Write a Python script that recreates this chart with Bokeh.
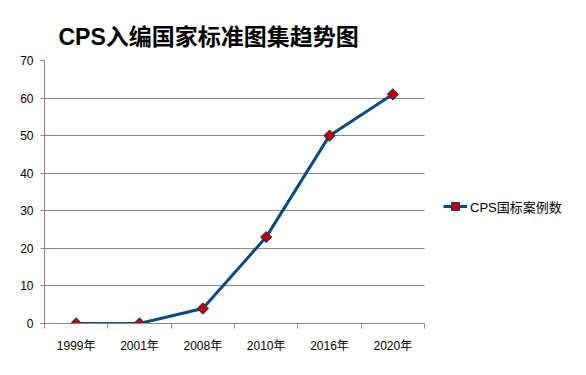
import math
from bokeh.plotting import figure
from bokeh.models import FixedTicker, Legend, LegendItem, ColumnDataSource
from bokeh.embed import file_html
from bokeh.resources import INLINE

title_text = "CPS入编国家标准图集趋势图"
years = ["1999年", "2001年", "2008年", "2010年", "2016年", "2020年"]
counts = [0, 0, 4, 23, 50, 61]
series_name = "CPS国标案例数"
y_ticks = [0, 10, 20, 30, 40, 50, 60, 70]

n = len(years)
xpos = [i + 0.5 for i in range(n)]
src = ColumnDataSource(dict(x=xpos, y=counts, year=years))

W, H = 578, 367
left, top, bottom = 44, 60, 44
plot_px = 380  # pixel width of the category area
x_end = n * (W - left) / plot_px

p = figure(width=W, height=H, output_backend="svg", toolbar_location=None,
           x_range=(0, x_end), y_range=(0, 70),
           min_border_left=left, min_border_right=0, min_border_top=top, min_border_bottom=bottom)
p.outline_line_color = None
p.background_fill_color = "white"
p.border_fill_color = "white"

font = "Liberation Sans, Noto Sans CJK SC"
p.title.text = title_text
p.title.text_font = font
p.title.text_font_size = "23px"
p.title.text_font_style = "bold"
p.title.text_color = "black"
p.title.offset = 14
p.title.standoff = 21

xa = p.xaxis[0]
xa.bounds = (0, n)
xa.ticker = FixedTicker(ticks=xpos, minor_ticks=list(range(n + 1)))
xa.major_label_overrides = {x: y for x, y in zip(xpos, years)}
xa.major_tick_line_color = None
xa.major_tick_out = 0
xa.major_tick_in = 0
xa.minor_tick_out = 5
xa.minor_tick_in = 0
xa.minor_tick_line_color = "#888888"
xa.axis_line_color = "#888888"
xa.major_label_standoff = 10
xa.major_label_text_font = font
xa.major_label_text_font_size = "12px"
xa.major_label_text_color = "black"

ya = p.yaxis[0]
ya.ticker = FixedTicker(ticks=y_ticks)
ya.minor_tick_line_color = None
ya.major_tick_out = 4
ya.major_tick_in = 0
ya.major_tick_line_color = "#888888"
ya.axis_line_color = "#888888"
ya.major_label_standoff = 7
ya.major_label_text_font = font
ya.major_label_text_font_size = "12px"
ya.major_label_text_color = "black"

p.xgrid.grid_line_color = None
p.ygrid.grid_line_color = "#888888"
p.ygrid.grid_line_width = 1
p.ygrid.ticker = FixedTicker(ticks=y_ticks)
p.ygrid.cross_bounds = (0, n)

ln = p.line("x", "y", source=src, line_color="#0a4a80", line_width=3)
mk = p.scatter("x", "y", source=src, marker="square", angle=math.pi / 4, size=8,
               fill_color="#c00000", line_color="#0a3a70", line_width=1)

legend = Legend(items=[LegendItem(label=series_name, renderers=[ln, mk])],
                location=(399, 107), orientation="vertical")
legend.border_line_color = None
legend.background_fill_alpha = 0
legend.padding = 0
legend.margin = 0
legend.glyph_width = 24
legend.glyph_height = 20
legend.label_standoff = 3
legend.label_text_font = font
legend.label_text_font_size = "13px"
legend.label_text_color = "black"
p.add_layout(legend, "center")

open("out.html", "w").write(file_html(p, INLINE))
